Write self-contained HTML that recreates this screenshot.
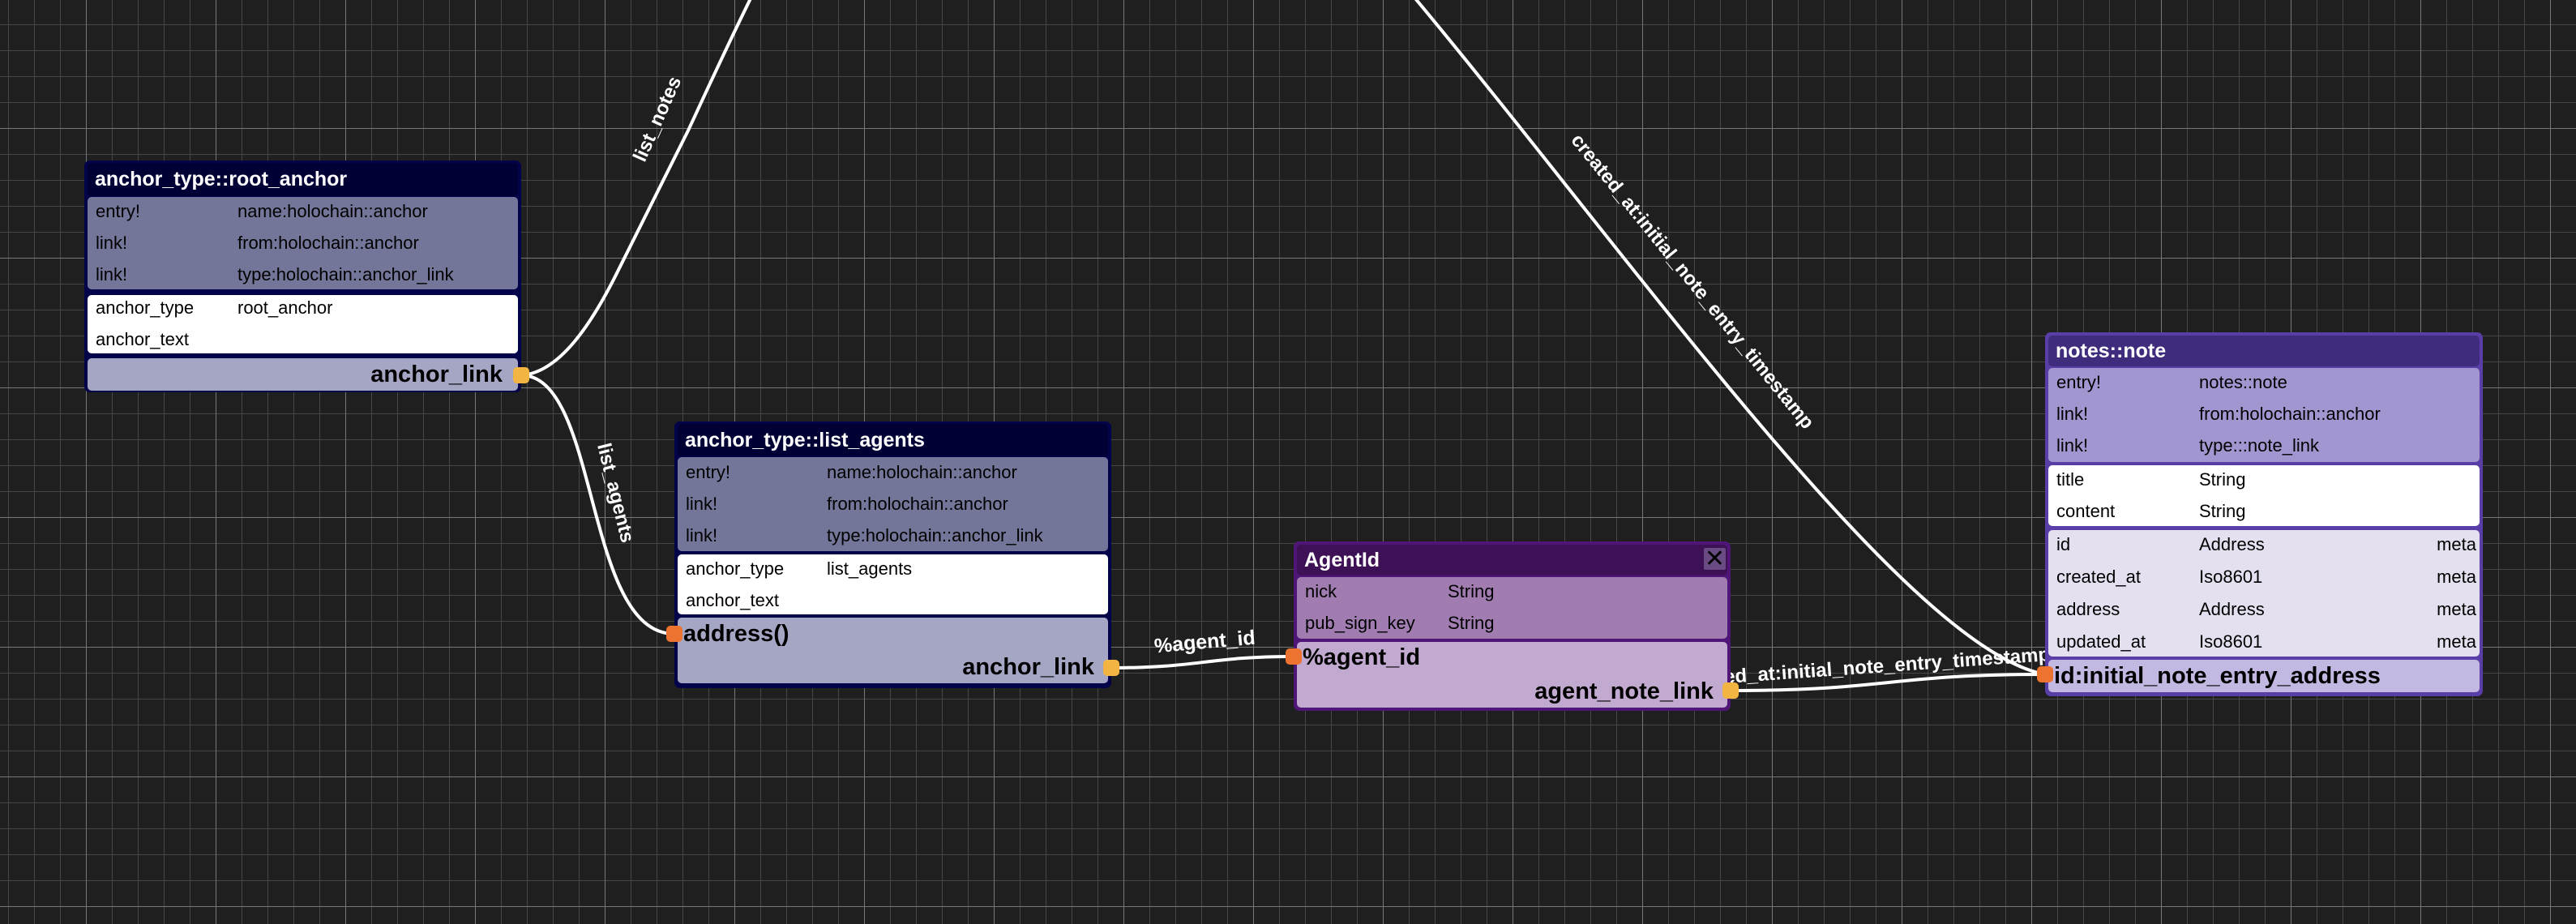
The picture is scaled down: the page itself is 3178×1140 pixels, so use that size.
<!DOCTYPE html>
<html><head><meta charset="utf-8">
<style>
html,body{margin:0;padding:0;}
body{width:3178px;height:1140px;overflow:hidden;position:relative;
background-color:#1f1f1f;
background-image:
linear-gradient(to right,#777 1px,transparent 1px),
linear-gradient(to bottom,#777 1px,transparent 1px),
linear-gradient(to right,#474747 1px,transparent 1px),
linear-gradient(to bottom,#474747 1px,transparent 1px);
background-size:160px 160px,160px 160px,32px 32px,32px 32px;
background-position:106px 0,0 158px,10px 0,0 30px;
font-family:"Liberation Sans",sans-serif;}
svg{position:absolute;left:0;top:0;}
.node{position:absolute;border-radius:7px;}
.node>div{position:absolute;left:4px;right:4px;border-radius:5px;}
.hd{color:#fff;font-weight:bold;font-size:25px;padding-left:9px;box-sizing:border-box;}
.row{position:absolute;left:10px;font-size:22px;color:#000;white-space:nowrap;}
.c2{position:absolute;font-size:22px;color:#000;white-space:nowrap;}
.meta{position:absolute;right:4px;font-size:22px;color:#000;}
.ft{position:absolute;font-weight:bold;font-size:29px;color:#000;white-space:nowrap;}
.port{position:absolute;width:20px;height:20px;border-radius:5px;}
.y{background:#f2b541;}.o{background:#ec7430;}
</style></head><body>
<svg width="3178" height="1140">
<g fill="none" stroke="#fff" stroke-width="4">
<path d="M643,463 C690,460 730,400 763,333 C800,260 830,200 849,161 C875,105 900,50 935,-20"/>
<path d="M643,463 C740,463 720,782 832,782"/>
<path d="M1735,-15 C2000,300 2350,800 2523,832"/>
<path d="M1371,824 C1480,824 1490,810 1596,810"/>
<path d="M2135,852 C2330,852 2330,832 2523,832"/>
</g>
<g fill="#fff" font-family="Liberation Sans, sans-serif" font-weight="bold" font-size="24">
<text transform="translate(818,150) rotate(-66)" text-anchor="middle">list_notes</text>
<text transform="translate(752,610) rotate(76)" text-anchor="middle">list_agents</text>
<text transform="translate(2082,352) rotate(51)" text-anchor="middle">created_at:initial_note_entry_timestamp</text>
<text transform="translate(1487,800) rotate(-5)" text-anchor="middle" font-size="25">%agent_id</text>
<text transform="translate(2300,831) rotate(-4)" text-anchor="middle">created_at:initial_note_entry_timestamp</text>
</g>
</svg>

<!-- root_anchor -->
<div class="node" style="left:104px;top:198px;width:539px;height:286px;background:#03034a;">
<div class="hd" style="top:3px;height:41px;line-height:41px;background:#000035;">anchor_type::root_anchor</div>
<div style="top:45px;height:114px;background:#737599;">
<span class="row" style="top:-2px;line-height:39px">entry!</span><span class="c2" style="left:185px;top:-2px;line-height:39px">name:holochain::anchor</span>
<span class="row" style="top:37px;line-height:39px">link!</span><span class="c2" style="left:185px;top:37px;line-height:39px">from:holochain::anchor</span>
<span class="row" style="top:76px;line-height:39px">link!</span><span class="c2" style="left:185px;top:76px;line-height:39px">type:holochain::anchor_link</span>
</div>
<div style="top:166px;height:72px;background:#fff;">
<span class="row" style="top:-4px;line-height:39px">anchor_type</span><span class="c2" style="left:185px;top:-4px;line-height:39px">root_anchor</span>
<span class="row" style="top:35px;line-height:39px">anchor_text</span>
</div>
<div style="top:244px;height:40px;background:#a4a6c4;">
<span class="ft" style="right:19px;top:0;line-height:40px">anchor_link</span>
</div>
</div>
<div class="port y" style="left:633px;top:453px"></div>

<!-- list_agents -->
<div class="node" style="left:832px;top:520px;width:539px;height:329px;background:#03034a;">
<div class="hd" style="top:3px;height:40px;line-height:40px;background:#000035;">anchor_type::list_agents</div>
<div style="top:44px;height:116px;background:#737599;">
<span class="row" style="top:-1px;line-height:39px">entry!</span><span class="c2" style="left:184px;top:-1px;line-height:39px">name:holochain::anchor</span>
<span class="row" style="top:38px;line-height:39px">link!</span><span class="c2" style="left:184px;top:38px;line-height:39px">from:holochain::anchor</span>
<span class="row" style="top:77px;line-height:39px">link!</span><span class="c2" style="left:184px;top:77px;line-height:39px">type:holochain::anchor_link</span>
</div>
<div style="top:164px;height:74px;background:#fff;">
<span class="row" style="top:-2px;line-height:39px">anchor_type</span><span class="c2" style="left:184px;top:-2px;line-height:39px">list_agents</span>
<span class="row" style="top:37px;line-height:39px">anchor_text</span>
</div>
<div style="top:242px;height:81px;background:#a4a6c4;">
<span class="ft" style="left:7px;top:0;line-height:40px">address()</span>
<span class="ft" style="right:17px;top:41px;line-height:40px">anchor_link</span>
</div>
</div>
<div class="port o" style="left:822px;top:772px"></div>
<div class="port y" style="left:1361px;top:814px"></div>

<!-- AgentId -->
<div class="node" style="left:1596px;top:668px;width:539px;height:209px;background:#4f1677;">
<div class="hd" style="top:4px;height:38px;line-height:38px;background:#3e1055;">AgentId</div>
<div style="left:506px;right:auto;top:8px;width:27px;height:27px;background:#6a4a82;border-radius:2px;color:#000;font-size:30px;line-height:27px;text-align:center;">✕</div>
<div style="top:44px;height:76px;background:#a07cb1;">
<span class="row" style="top:-2px;line-height:39px">nick</span><span class="c2" style="left:186px;top:-2px;line-height:39px">String</span>
<span class="row" style="top:37px;line-height:39px">pub_sign_key</span><span class="c2" style="left:186px;top:37px;line-height:39px">String</span>
</div>
<div style="top:124px;height:81px;background:#c1a9cf;">
<span class="ft" style="left:7px;top:0;line-height:38px">%agent_id</span>
<span class="ft" style="right:17px;top:41px;line-height:40px">agent_note_link</span>
</div>
</div>
<div class="port o" style="left:1586px;top:800px"></div>
<div class="port y" style="left:2125px;top:842px"></div>

<!-- notes::note -->
<div class="node" style="left:2523px;top:410px;width:540px;height:449px;background:#5a3ea8;">
<div class="hd" style="top:4px;height:38px;line-height:38px;background:#402c7c;">notes::note</div>
<div style="top:44px;height:116px;background:#a395cf;">
<span class="row" style="top:-2px;line-height:39px">entry!</span><span class="c2" style="left:186px;top:-2px;line-height:39px">notes::note</span>
<span class="row" style="top:37px;line-height:39px">link!</span><span class="c2" style="left:186px;top:37px;line-height:39px">from:holochain::anchor</span>
<span class="row" style="top:76px;line-height:39px">link!</span><span class="c2" style="left:186px;top:76px;line-height:39px">type:::note_link</span>
</div>
<div style="top:164px;height:75px;background:#fff;">
<span class="row" style="top:-2px;line-height:39px">title</span><span class="c2" style="left:186px;top:-2px;line-height:39px">String</span>
<span class="row" style="top:37px;line-height:39px">content</span><span class="c2" style="left:186px;top:37px;line-height:39px">String</span>
</div>
<div style="top:244px;height:156px;background:#e4e0f0;">
<span class="row" style="top:-2px;line-height:40px">id</span><span class="c2" style="left:186px;top:-2px;line-height:40px">Address</span><span class="meta" style="top:-2px;line-height:40px">meta</span>
<span class="row" style="top:38px;line-height:40px">created_at</span><span class="c2" style="left:186px;top:38px;line-height:40px">Iso8601</span><span class="meta" style="top:38px;line-height:40px">meta</span>
<span class="row" style="top:78px;line-height:40px">address</span><span class="c2" style="left:186px;top:78px;line-height:40px">Address</span><span class="meta" style="top:78px;line-height:40px">meta</span>
<span class="row" style="top:118px;line-height:40px">updated_at</span><span class="c2" style="left:186px;top:118px;line-height:40px">Iso8601</span><span class="meta" style="top:118px;line-height:40px">meta</span>
</div>
<div style="top:404px;height:40px;background:#c2b8e2;">
<span class="ft" style="left:7px;top:0;line-height:40px">id:initial_note_entry_address</span>
</div>
</div>
<div class="port o" style="left:2513px;top:822px"></div>
</body></html>
